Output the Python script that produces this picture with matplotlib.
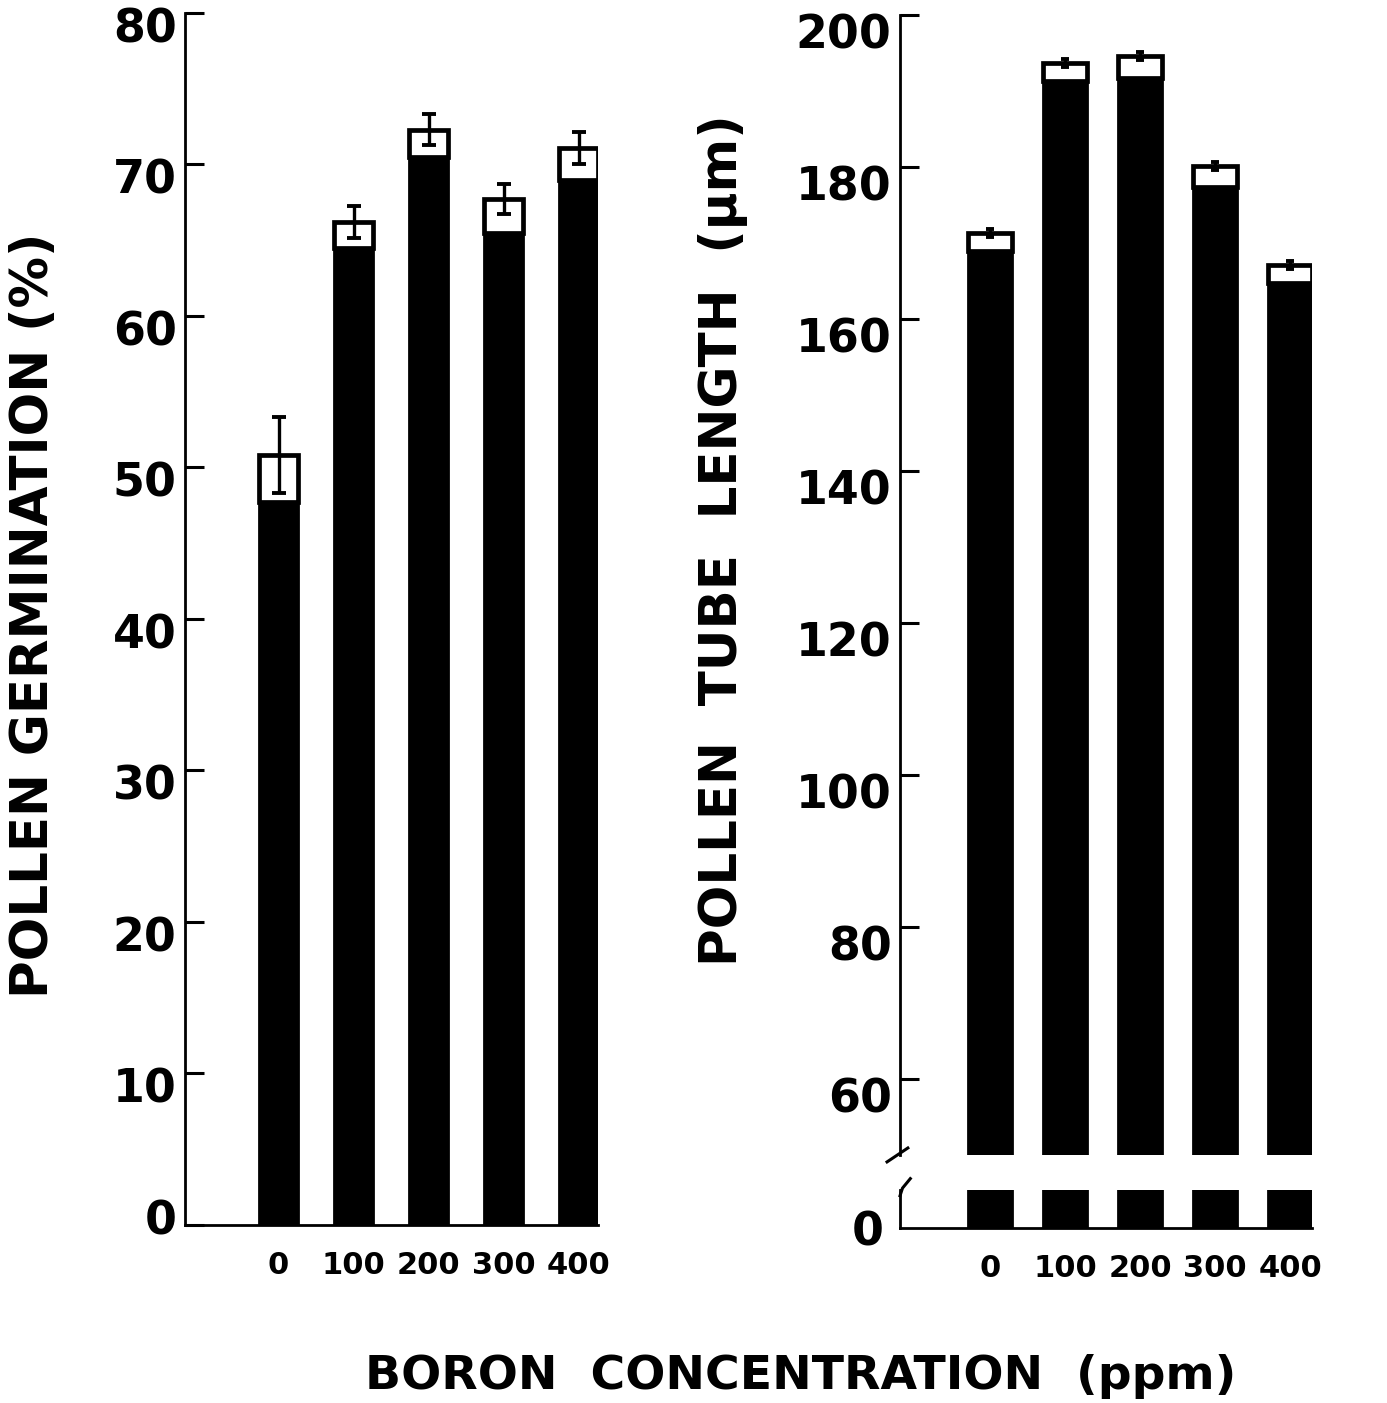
import numpy as np
import matplotlib.pyplot as plt
import matplotlib.transforms as mtransforms

# boron levels and the two measured responses
boron_ppm = ["0", "100", "200", "300", "400"]

germination = [50.8, 66.2, 72.3, 67.7, 71.1]
germination_se = [2.5, 1.05, 1.0, 1.0, 1.05]
germination_box_low = [47.7, 64.5, 70.5, 65.5, 69.0]

tube_length = [171.3, 193.7, 194.6, 180.1, 167.1]
tube_length_se = [0.5, 0.5, 0.5, 0.5, 0.5]
tube_length_box_low = [168.9, 191.3, 191.7, 177.4, 164.7]

plt.rcParams["font.family"] = "DejaVu Sans"
plt.rcParams["font.weight"] = "bold"
plt.rcParams["axes.labelweight"] = "bold"

fig = plt.figure(figsize=(13.87, 14.03), dpi=100)

x = np.arange(len(boron_ppm))
lw_spine = 2.0


def draw_bars(ax, vals, low, err, width, capsize):
    ax.bar(x, vals, width=width, color="black", edgecolor="black",
           linewidth=lw_spine, zorder=2)
    ax.bar(x, np.array(vals) - np.array(low), bottom=low, width=width,
           color="white", edgecolor="black", linewidth=3.4, zorder=3)
    ax.errorbar(x, vals, yerr=err, fmt="none", ecolor="black",
                elinewidth=2.4, capsize=capsize, capthick=2.8, zorder=4)


def style_axis(ax):
    for s in ax.spines.values():
        s.set_linewidth(lw_spine)
    ax.spines["top"].set_visible(False)
    ax.spines["right"].set_visible(False)
    ax.tick_params(axis="y", direction="in", length=14, width=2.2,
                   pad=6, labelsize=33)
    ax.tick_params(axis="x", length=0, pad=19, labelsize=22)


def drop_labels(ax, px=12):
    # hand-lettered numbers sit a little below their ticks
    shift = mtransforms.ScaledTranslation(0, -px / 100, fig.dpi_scale_trans)
    for lab in ax.get_yticklabels():
        lab.set_transform(lab.get_transform() + shift)


# left panel: germination
ax1 = fig.add_axes([0.1334, 0.1269, 0.2978, 0.8639])
draw_bars(ax1, germination, germination_box_low, germination_se, 0.52, 5)
ax1.set_ylim(0, 80)
ax1.set_xlim(-1.247, 4.26)
ax1.set_yticks(range(0, 81, 10))
ax1.set_xticks(x)
ax1.set_xticklabels(boron_ppm)
style_axis(ax1)
ax1.set_ylabel("POLLEN GERMINATION (%)", fontsize=37, fontweight="bold")
ax1.yaxis.set_label_coords(-0.305, 0.503)

# right panel: tube length on a broken axis
ax2 = fig.add_axes([0.6489, 0.1768, 0.297, 0.8126])
ax3 = fig.add_axes([0.6489, 0.1247, 0.297, 0.0271])
for ax in (ax2, ax3):
    draw_bars(ax, tube_length, tube_length_box_low, tube_length_se, 0.587, 3)
    ax.set_xlim(-1.2, 4.29)
    style_axis(ax)

ax2.set_ylim(50, 200)
ax2.set_yticks(range(60, 201, 20))
ax2.spines["bottom"].set_visible(False)
ax2.set_xticks([])
ax2.set_ylabel("POLLEN  TUBE  LENGTH  (\u03bcm)", fontsize=37,
               fontweight="bold")
ax2.yaxis.set_label_coords(-0.37, 0.539)

ax3.set_ylim(0, 5)
ax3.set_yticks([0])
ax3.set_xticks(x)
ax3.set_xticklabels(boron_ppm)
ax3.tick_params(axis="y", length=0, pad=12)

fig.canvas.draw()
drop_labels(ax1)
drop_labels(ax2, 16)
# keep the zero on the left panel resting on the axis
ax1.get_yticklabels()[0].set_transform(
    ax1.get_yticklabels()[0].get_transform()
    + mtransforms.ScaledTranslation(0, 0.2, fig.dpi_scale_trans))

# break marks on the right y axis
ax2.plot([-0.0315, 0.019], [-0.0061, 0.0061], transform=ax2.transAxes,
         color="black", lw=2.2, clip_on=False)
ax3.plot([0.0, 0.006, 0.025], [0.85, 1.05, 1.3], transform=ax3.transAxes,
         color="black", lw=2.2, clip_on=False)

fig.text(0.577, 0.019, "BORON  CONCENTRATION  (ppm)", ha="center",
         va="center", fontsize=34, fontweight="bold")

fig.savefig("out.png", dpi=100)
